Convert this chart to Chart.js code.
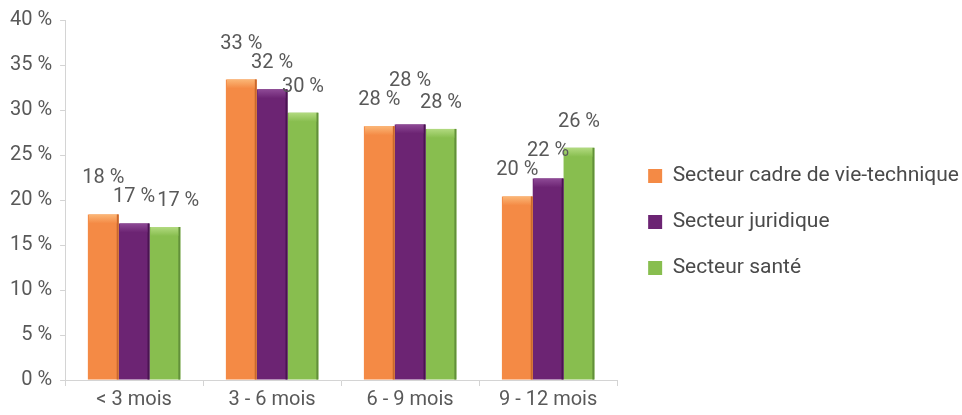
<!DOCTYPE html>
<html>
<head>
<meta charset="utf-8">
<script src="https://cdn.jsdelivr.net/npm/chart.js@4/dist/chart.umd.min.js"></script>
<style>
  html, body { margin: 0; padding: 0; background: #fff; }
  #wrap { width: 962px; height: 415px; position: relative; }
</style>
</head>
<body>
<div id="wrap"><canvas id="chart"></canvas></div>
<script>
// values (percent)
const categories = ['< 3 mois', '3 - 6 mois', '6 - 9 mois', '9 - 12 mois'];
const seriesNames = ['Secteur cadre de vie-technique', 'Secteur juridique', 'Secteur santé'];
const cadreVie = [18.4, 33.4, 28.2, 20.4];
const juridique = [17.4, 32.3, 28.4, 22.4];
const sante = [17.0, 29.7, 27.9, 25.8];
const yTicks = [0, 5, 10, 15, 20, 25, 30, 35, 40];

const colors = ['#F48A45', '#6C2473', '#88BE4F'];
const caps = ['#FBB777', '#8E4A96', '#B2DA80'];
const edges = ['#C9682C', '#4A1451', '#62903A'];
const textColor = '#595959';
const fontFamily = 'Roboto, "Noto Sans", sans-serif';
const fontSize = 20;

// lighter top cap and darker right edge, like the glossy bars of the original
const barShine = {
  id: 'barShine',
  afterDatasetsDraw(chart) {
    const ctx = chart.ctx;
    chart.data.datasets.forEach((ds, i) => {
      chart.getDatasetMeta(i).data.forEach(bar => {
        const left = bar.x - bar.width / 2;
        ctx.save();
        ctx.fillStyle = edges[i];
        ctx.fillRect(left + bar.width - 2, bar.y, 2, bar.base - bar.y);
        const g = ctx.createLinearGradient(0, bar.y, 0, bar.y + 9);
        g.addColorStop(0, caps[i]);
        g.addColorStop(1, colors[i]);
        ctx.fillStyle = g;
        ctx.fillRect(left + 1, bar.y, bar.width - 3, 9);
        ctx.restore();
      });
    });
  }
};

// value labels above bars, nudged apart when they collide (like the original)
const valueLabels = {
  id: 'valueLabels',
  afterDatasetsDraw(chart) {
    const ctx = chart.ctx;
    ctx.save();
    ctx.font = fontSize + 'px ' + fontFamily;
    ctx.fillStyle = textColor;
    ctx.textAlign = 'center';
    ctx.textBaseline = 'middle';
    const lift = 26, h = 19;
    categories.forEach((c, j) => {
      const labs = chart.data.datasets.map((ds, i) => {
        const bar = chart.getDatasetMeta(i).data[j];
        const txt = Math.round(ds.data[j]) + ' %';
        return { txt, x: bar.x, y: bar.y - lift, w: ctx.measureText(txt).width, v: ds.data[j] };
      });
      for (let k = 1; k < labs.length; k++) {
        const a = labs[k - 1], b = labs[k];
        const ox = (a.w + b.w) / 2 + 2 - (b.x - a.x);
        const dy = Math.abs(a.y - b.y);
        if (ox > 0 && dy < h) {
          if (b.v > a.v) b.y = a.y - h;
          else if (a.y < b.y - 5) a.y = b.y - h;
          else b.x += ox;
        }
      }
      labs.forEach(l => ctx.fillText(l.txt, l.x, l.y));
    });
    ctx.restore();
  }
};

function draw() {
  new Chart(document.getElementById('chart'), {
    type: 'bar',
    data: {
      labels: categories,
      datasets: [cadreVie, juridique, sante].map((d, i) => ({
        label: seriesNames[i],
        data: d,
        backgroundColor: colors[i],
        categoryPercentage: 0.67,
        barPercentage: 1.0
      }))
    },
    options: {
      responsive: true,
      maintainAspectRatio: false,
      animation: false,
      layout: { padding: { top: 8, left: 2, right: -7, bottom: 1 } },
      plugins: {
        tooltip: { enabled: false },
        legend: {
          position: 'right',
          maxWidth: 420,
          title: { display: true, text: ' ', font: { size: 10 }, padding: 5 },
          labels: {
            boxWidth: 14,
            boxHeight: 14,
            padding: 25,
            color: '#4a4a4a',
            font: { family: fontFamily, size: 21 }
          }
        }
      },
      scales: {
        x: {
          grid: { display: true, drawOnChartArea: false, color: '#d4d4d4', tickLength: 6 },
          border: { color: '#d4d4d4' },
          ticks: { color: textColor, font: { family: fontFamily, size: fontSize }, padding: 2 }
        },
        y: {
          min: 0,
          max: 40,
          afterBuildTicks(scale) { scale.ticks = yTicks.map(v => ({ value: v })); },
          grid: { display: true, drawOnChartArea: false, color: '#d4d4d4', tickLength: 5 },
          border: { color: '#d4d4d4' },
          ticks: { color: textColor, font: { family: fontFamily, size: fontSize }, padding: 8, callback: v => v + ' %' }
        },
        // empty axis that only keeps a gap between the plot and the legend
        gap: {
          type: 'linear',
          position: 'right',
          display: true,
          grid: { display: false },
          border: { display: false },
          ticks: { display: false },
          afterFit(scale) { scale.width = 6; }
        }
      }
    },
    plugins: [barShine, valueLabels]
  });
}

if (document.fonts && document.fonts.load) {
  document.fonts.load(fontSize + 'px Roboto').then(draw, draw);
} else {
  draw();
}
</script>
</body>
</html>
